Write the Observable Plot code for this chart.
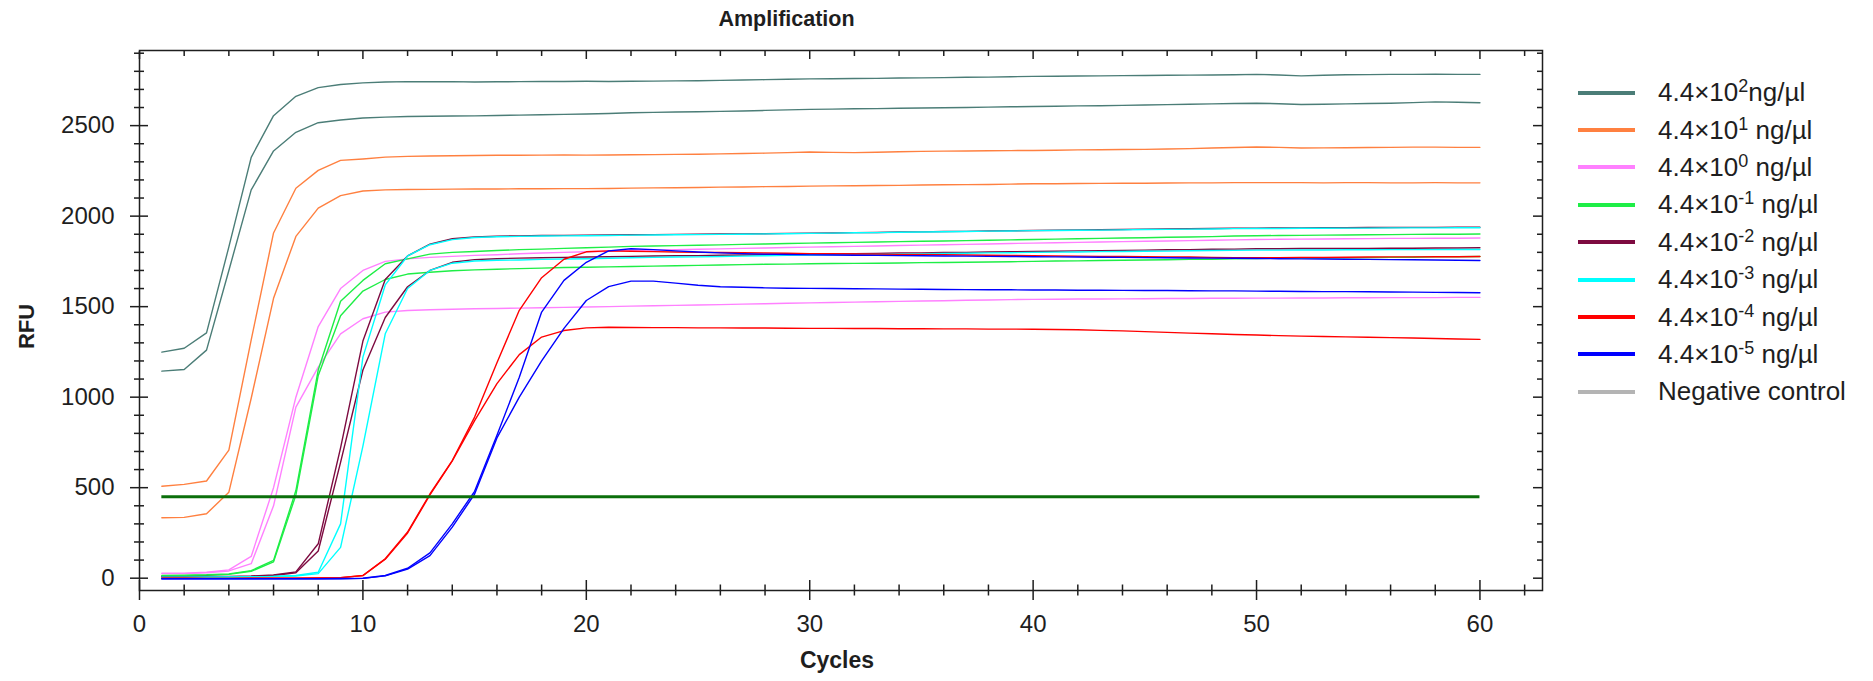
<!DOCTYPE html>
<html>
<head>
<meta charset="utf-8">
<script src="https://cdn.jsdelivr.net/npm/d3@7"></script>
<script src="https://cdn.jsdelivr.net/npm/@observablehq/plot@0.6"></script>
<style>
  body { margin: 0; background: #fff; }
  #chart { position: relative; width: 1873px; height: 681px; font-family: "Liberation Sans", Arial, sans-serif; color: #1e1e1e; }
  #chart svg { position: absolute; left: 0; top: 0; }
  #legend { position: absolute; left: 1578px; top: 74px; font-size: 26px; color: #1e1e1e; }
  #legend .row { height: 37.4px; display: flex; align-items: center; white-space: nowrap; }
  #legend .swatch { width: 57px; height: 4px; margin-right: 23px; }
  #legend sup { font-size: 18px; vertical-align: 0.5em; line-height: 0; }
</style>
</head>
<body>
<div id="chart"></div>
<script>
// PCR cycle numbers
const cycles = [
  1, 2, 3, 4, 5, 6, 7, 8, 9, 10, 11, 12, 13, 14, 15, 16, 17, 18, 19, 20,
  21, 22, 23, 24, 25, 26, 27, 28, 29, 30, 31, 32, 33, 34, 35, 36, 37, 38, 39, 40,
  41, 42, 43, 44, 45, 46, 47, 48, 49, 50, 51, 52, 53, 54, 55, 56, 57, 58, 59, 60
];

// RFU per cycle, two replicate wells per dilution
const rfu_e2_a = [
  1249, 1270, 1355, 1830, 2325, 2555, 2662, 2710, 2727, 2736,
  2741, 2743, 2742, 2743, 2741, 2742, 2743, 2744, 2744, 2745,
  2744, 2745, 2746, 2747, 2748, 2750, 2752, 2754, 2756, 2758,
  2759, 2760, 2761, 2763, 2764, 2765, 2767, 2768, 2770, 2772,
  2773, 2774, 2775, 2776, 2777, 2778, 2779, 2780, 2781, 2783,
  2780, 2775, 2778, 2781, 2782, 2783, 2783, 2784, 2783, 2783
];
const rfu_e2_b = [
  1144, 1153, 1260, 1700, 2145, 2360, 2463, 2516, 2531, 2542,
  2547, 2550, 2552, 2553, 2554, 2556, 2558, 2560, 2562, 2564,
  2567, 2571, 2573, 2575, 2577, 2579, 2581, 2584, 2587, 2590,
  2591, 2593, 2594, 2596, 2597, 2599, 2600, 2602, 2604, 2606,
  2607, 2609, 2610, 2612, 2614, 2616, 2618, 2620, 2622, 2624,
  2621, 2617, 2618, 2620, 2622, 2624, 2627, 2631, 2629, 2626
];
const rfu_e1_a = [
  508, 518, 537, 707, 1317, 1907, 2154, 2253, 2308, 2316,
  2326, 2330, 2332, 2334, 2335, 2336, 2336, 2337, 2338, 2337,
  2338, 2339, 2340, 2341, 2342, 2344, 2346, 2348, 2351, 2354,
  2352, 2351, 2353, 2356, 2358, 2359, 2360, 2361, 2362, 2363,
  2364, 2366, 2367, 2368, 2369, 2371, 2373, 2376, 2379, 2382,
  2380, 2376, 2377, 2378, 2379, 2380, 2381, 2381, 2380, 2380
];
const rfu_e1_b = [
  334, 336, 356, 475, 994, 1546, 1888, 2044, 2113, 2139,
  2145, 2147, 2148, 2149, 2150, 2150, 2151, 2151, 2152, 2152,
  2153, 2155, 2156, 2157, 2158, 2160, 2161, 2163, 2164, 2166,
  2167, 2168, 2169, 2170, 2172, 2173, 2174, 2175, 2177, 2179,
  2179, 2180, 2181, 2182, 2182, 2183, 2184, 2184, 2185, 2185,
  2185, 2185, 2184, 2185, 2185, 2184, 2184, 2185, 2184, 2184
];
const rfu_e0_a = [
  28, 28, 33, 46, 120, 500, 1000, 1390, 1600, 1700,
  1750, 1764, 1772, 1778, 1783, 1787, 1792, 1796, 1800, 1803,
  1806, 1810, 1812, 1815, 1817, 1819, 1822, 1824, 1827, 1829,
  1831, 1833, 1835, 1838, 1840, 1842, 1844, 1846, 1849, 1851,
  1853, 1855, 1857, 1859, 1861, 1863, 1865, 1867, 1869, 1871,
  1872, 1873, 1874, 1875, 1876, 1877, 1877, 1878, 1878, 1879
];
const rfu_e0_b = [
  25, 25, 30, 40, 80, 400, 945, 1166, 1350, 1433,
  1470, 1479, 1483, 1486, 1488, 1490, 1492, 1494, 1496, 1498,
  1500, 1503, 1505, 1507, 1509, 1511, 1514, 1516, 1519, 1521,
  1523, 1525, 1527, 1529, 1531, 1533, 1535, 1537, 1539, 1540,
  1541, 1542, 1542, 1543, 1544, 1545, 1545, 1546, 1546, 1547,
  1547, 1548, 1548, 1549, 1549, 1550, 1550, 1550, 1551, 1551
];
const rfu_m1_a = [
  15, 17, 19, 24, 42, 98, 484, 1150, 1530, 1645,
  1737, 1764, 1790, 1800, 1805, 1810, 1815, 1818, 1822, 1825,
  1829, 1833, 1835, 1837, 1839, 1841, 1844, 1846, 1849, 1851,
  1853, 1855, 1857, 1859, 1861, 1863, 1865, 1867, 1869, 1871,
  1873, 1875, 1877, 1879, 1881, 1883, 1885, 1887, 1890, 1892,
  1893, 1894, 1895, 1896, 1897, 1898, 1899, 1900, 1900, 1901
];
const rfu_m1_b = [
  12, 14, 16, 21, 38, 90, 460, 1120, 1450, 1586,
  1650, 1680, 1690, 1698, 1703, 1707, 1710, 1713, 1716, 1718,
  1720, 1722, 1724, 1726, 1728, 1730, 1732, 1734, 1735, 1737,
  1738, 1739, 1740, 1741, 1743, 1744, 1745, 1747, 1748, 1750,
  1752, 1753, 1755, 1756, 1758, 1759, 1761, 1762, 1764, 1766,
  1767, 1768, 1769, 1770, 1771, 1772, 1773, 1775, 1776, 1777
];
const rfu_m2_a = [
  8, 8, 9, 10, 12, 18, 35, 190, 720, 1310,
  1650, 1780, 1845, 1875, 1885, 1889, 1891, 1893, 1894, 1895,
  1896, 1897, 1898, 1899, 1900, 1901, 1902, 1903, 1905, 1906,
  1907, 1909, 1910, 1912, 1913, 1915, 1916, 1918, 1919, 1921,
  1922, 1924, 1925, 1926, 1928, 1929, 1930, 1932, 1933, 1934,
  1935, 1935, 1936, 1936, 1937, 1937, 1938, 1938, 1939, 1939
];
const rfu_m2_b = [
  6, 6, 7, 8, 10, 15, 30, 150, 640, 1150,
  1440, 1610, 1700, 1745, 1760, 1765, 1768, 1770, 1772, 1774,
  1776, 1778, 1780, 1781, 1782, 1784, 1785, 1787, 1788, 1790,
  1791, 1793, 1794, 1796, 1797, 1799, 1800, 1802, 1803, 1805,
  1806, 1808, 1809, 1811, 1812, 1814, 1815, 1817, 1818, 1820,
  1820, 1821, 1821, 1822, 1822, 1823, 1823, 1824, 1824, 1825
];
const rfu_m3_a = [
  5, 5, 6, 7, 8, 10, 15, 33, 300, 1221,
  1620, 1780, 1842, 1870, 1882, 1886, 1888, 1890, 1891, 1892,
  1893, 1895, 1896, 1897, 1898, 1899, 1900, 1902, 1903, 1905,
  1906, 1908, 1909, 1911, 1912, 1914, 1915, 1917, 1918, 1920,
  1921, 1922, 1923, 1924, 1926, 1927, 1928, 1929, 1931, 1932,
  1932, 1933, 1933, 1934, 1934, 1935, 1935, 1935, 1936, 1936
];
const rfu_m3_b = [
  4, 4, 5, 6, 7, 9, 12, 25, 170, 730,
  1350, 1600, 1700, 1740, 1752, 1756, 1758, 1761, 1763, 1765,
  1767, 1770, 1772, 1774, 1775, 1777, 1779, 1781, 1783, 1785,
  1786, 1788, 1789, 1791, 1792, 1794, 1795, 1797, 1798, 1800,
  1801, 1802, 1804, 1805, 1806, 1807, 1809, 1810, 1811, 1812,
  1812, 1813, 1813, 1814, 1814, 1815, 1815, 1815, 1816, 1816
];
const rfu_m4_a = [
  0, 0, -1, -1, 0, 0, 0, 1, 3, 15,
  107, 255, 465, 650, 890, 1190, 1480, 1660, 1762, 1803,
  1808, 1806, 1804, 1802, 1800, 1799, 1798, 1796, 1795, 1793,
  1792, 1791, 1790, 1789, 1788, 1787, 1785, 1784, 1783, 1781,
  1780, 1779, 1778, 1777, 1776, 1775, 1774, 1772, 1771, 1770,
  1771, 1772, 1772, 1773, 1774, 1775, 1775, 1776, 1776, 1777
];
const rfu_m4_b = [
  0, 0, -1, -1, 0, 0, 0, 1, 3, 14,
  105, 250, 460, 648, 870, 1075, 1235, 1332, 1368, 1383,
  1386, 1385, 1384, 1384, 1383, 1383, 1382, 1382, 1381, 1380,
  1380, 1379, 1379, 1378, 1378, 1377, 1377, 1376, 1376, 1375,
  1374, 1372, 1369, 1366, 1362, 1358, 1354, 1350, 1346, 1343,
  1340, 1337, 1335, 1333, 1331, 1329, 1327, 1324, 1321, 1319
];
const rfu_m5_a = [
  -3, -3, -3, -3, -3, -3, -3, -3, -2, 0,
  15, 55, 140, 300, 480, 790, 1110, 1470, 1645, 1745,
  1808, 1820, 1815, 1808, 1802, 1797, 1793, 1790, 1788, 1786,
  1785, 1784, 1783, 1782, 1781, 1780, 1779, 1778, 1777, 1776,
  1775, 1774, 1773, 1772, 1771, 1770, 1769, 1768, 1767, 1766,
  1765, 1764, 1763, 1762, 1761, 1760, 1759, 1758, 1756, 1755
];
const rfu_m5_b = [
  -4, -4, -4, -4, -4, -4, -4, -4, -3, -1,
  13, 50, 125, 282, 465, 775, 1000, 1200, 1380, 1534,
  1611, 1641, 1641, 1630, 1618, 1610, 1607, 1604, 1602, 1601,
  1600, 1599, 1598, 1597, 1596, 1595, 1594, 1593, 1593, 1592,
  1592, 1591, 1591, 1590, 1589, 1589, 1588, 1587, 1587, 1586,
  1585, 1584, 1583, 1583, 1582, 1581, 1580, 1579, 1578, 1577
];

// Sample names (legend order) and their label parts
const sampleNames = ["4.4e2", "4.4e1", "4.4e0", "4.4e-1", "4.4e-2", "4.4e-3", "4.4e-4", "4.4e-5", "NTC"];
const legendBase = ["4.4×10", "4.4×10", "4.4×10", "4.4×10", "4.4×10", "4.4×10", "4.4×10", "4.4×10", "Negative control"];
const legendExp = ["2", "1", "0", "-1", "-2", "-3", "-4", "-5", ""];
const legendUnit = ["ng/µl", " ng/µl", " ng/µl", " ng/µl", " ng/µl", " ng/µl", " ng/µl", " ng/µl", ""];
// Wells with amplification traces (the negative control stays flat and is not traced)
const replicates = [
  [rfu_e2_a, rfu_e2_b], [rfu_e1_a, rfu_e1_b], [rfu_e0_a, rfu_e0_b], [rfu_m1_a, rfu_m1_b],
  [rfu_m2_a, rfu_m2_b], [rfu_m3_a, rfu_m3_b], [rfu_m4_a, rfu_m4_b], [rfu_m5_a, rfu_m5_b], []
];

// Threshold line and axis ticks
const threshold = 450;
const xTicks = [0, 10, 20, 30, 40, 50, 60];
const xMinorTicks = [2, 4, 6, 8, 12, 14, 16, 18, 22, 24, 26, 28, 32, 34, 36, 38, 42, 44, 46, 48, 52, 54, 56, 58, 62];
const yTicks = [0, 500, 1000, 1500, 2000, 2500];
const yMinorTicks = [100, 200, 300, 400, 600, 700, 800, 900, 1100, 1200, 1300, 1400, 1600, 1700, 1800, 1900,
  2100, 2200, 2300, 2400, 2600, 2700, 2800, 2900];

// Line colours, one per sample
const palette = ["#4b7d77", "#ff8040", "#ff80ff", "#1eee46", "#7d0a40", "#00ffff", "#ff0000", "#0000ff", "#b4b4b4"];

// Tidy rows, one per well and cycle
const rows = replicates.flatMap((reps, i) => reps.flatMap((vals, r) =>
  vals.map((v, j) => ({cycle: cycles[j], rfu: v, sample: sampleNames[i], well: sampleNames[i] + "/" + r}))));

const ink = "#1e1e1e";
const plot = Plot.plot({
  width: 1873,
  height: 681,
  marginLeft: 139,
  marginRight: 331,
  marginTop: 50,
  marginBottom: 91,
  style: {fontFamily: '"Liberation Sans", Arial, sans-serif', color: ink, background: "#fff"},
  x: {domain: [0, 62.8]},
  y: {domain: [-68, 2915]},
  color: {domain: sampleNames, range: palette},
  marks: [
    Plot.line(rows, {x: "cycle", y: "rfu", z: "well", stroke: "sample", strokeWidth: 1.4}),
    Plot.ruleY([threshold], {x1: cycles[0], x2: cycles[cycles.length - 1], stroke: "#0b6f0b", strokeWidth: 3}),
    Plot.frame({stroke: ink, strokeWidth: 1.5}),
    // left axis: ticks straddle the frame line
    Plot.axisY({ticks: yTicks, anchor: "left", tickSize: 18, dx: 9, tickPadding: 16, fontSize: 24,
      tickFormat: d => String(d), strokeWidth: 1.5, label: null}),
    Plot.axisY({ticks: yMinorTicks, anchor: "left", tickSize: 10, dx: 5, tickFormat: () => "", strokeWidth: 1.5, label: null}),
    // right edge: inward ticks
    Plot.axisY({ticks: yTicks, anchor: "right", tickSize: 10, dx: -10, tickFormat: () => "", strokeWidth: 1.5, label: null}),
    Plot.axisY({ticks: yMinorTicks, anchor: "right", tickSize: 6, dx: -6, tickFormat: () => "", strokeWidth: 1.5, label: null}),
    // bottom axis
    Plot.axisX({ticks: xTicks, anchor: "bottom", tickSize: 20, dy: -10, tickPadding: 14, fontSize: 24,
      tickFormat: d => String(d), strokeWidth: 1.5, label: null}),
    Plot.axisX({ticks: xMinorTicks, anchor: "bottom", tickSize: 11, dy: -5.5, tickFormat: () => "", strokeWidth: 1.5, label: null}),
    // top edge: inward ticks
    Plot.axisX({ticks: xTicks, anchor: "top", tickSize: 8, dy: 8, tickFormat: () => "", strokeWidth: 1.5, label: null}),
    Plot.axisX({ticks: xMinorTicks, anchor: "top", tickSize: 5, dy: 5, tickFormat: () => "", strokeWidth: 1.5, label: null}),
    // titles
    Plot.text(["Amplification"], {frameAnchor: "top-left", dx: 647, dy: -31, fontWeight: "bold", fontSize: 21.5,
      textAnchor: "middle", lineAnchor: "middle"}),
    Plot.text(["RFU"], {frameAnchor: "left", dx: -113, dy: 6, rotate: -90, fontWeight: "bold", fontSize: 22,
      textAnchor: "middle", lineAnchor: "middle"}),
    Plot.text(["Cycles"], {frameAnchor: "bottom", dx: -4, dy: 70, fontWeight: "bold", fontSize: 23,
      textAnchor: "middle", lineAnchor: "middle"})
  ]
});

const chart = document.getElementById("chart");
chart.appendChild(plot);

// Legend beside the plot
const legend = d3.select(chart).append("div").attr("id", "legend");
sampleNames.forEach((name, i) => {
  const row = legend.append("div").attr("class", "row");
  row.append("span").attr("class", "swatch").style("background", palette[i]);
  const label = row.append("span");
  label.append("span").text(legendBase[i]);
  if (legendExp[i]) label.append("sup").text(legendExp[i]);
  if (legendUnit[i]) label.append("span").style("white-space", "pre").text(legendUnit[i]);
});
</script>
</body>
</html>
